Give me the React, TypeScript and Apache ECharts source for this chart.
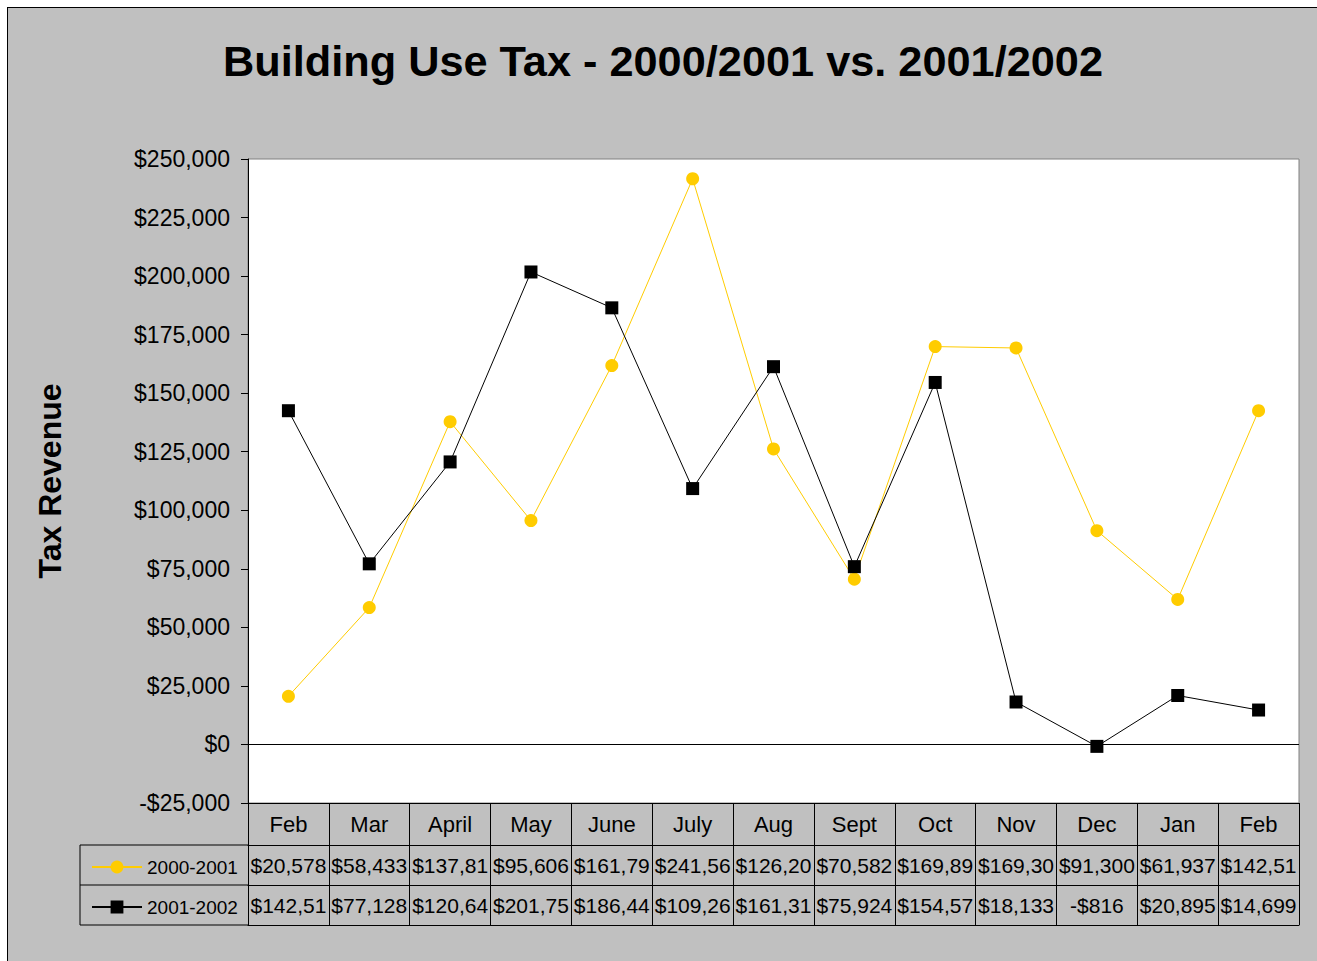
import React, { useEffect, useRef } from "react";
import * as echarts from "echarts";

const months = ["Feb", "Mar", "April", "May", "June", "July", "Aug", "Sept", "Oct", "Nov", "Dec", "Jan", "Feb"];
const seriesNames = ["2000-2001", "2001-2002"];
const values2000 = [20578, 58433, 137815, 95606, 161795, 241565, 126205, 70582, 169895, 169305, 91300, 61937, 142515];
const values2001 = [142515, 77128, 120645, 201755, 186445, 109265, 161315, 75924, 154575, 18133, -816, 20895, 14699];
const yMin = -25000;
const yMax = 250000;
const yStep = 25000;

const money = (v: number) => (v < 0 ? "-$" : "$") + Math.abs(v).toLocaleString("en-US");
const cell = (v: number) => money(v).slice(0, 7);

const SANS = "'Liberation Sans', Arial, sans-serif";

export default function App() {
  const ref = useRef<HTMLDivElement>(null);
  useEffect(() => {
    document.body.style.margin = "0";
    const chart = echarts.init(ref.current!, null, { renderer: "svg" });
    const gridLeft = 248;
    const gridRight = 18;
    const tableAxis = (data: string[], offset: number, margin: number, fontSize = 21, labels = true, ticks = true) => ({
      type: "category",
      data,
      position: "bottom",
      offset,
      boundaryGap: true,
      axisLine: { show: true, onZero: false, lineStyle: { color: "#000", width: 1 } },
      axisTick: { show: ticks, length: 40, interval: 0, lineStyle: { color: "#000", width: 1 } },
      axisLabel: {
        show: labels,
        interval: 0,
        margin,
        color: "#000",
        fontSize,
        fontFamily: SANS,
      },
      splitLine: { show: false },
    });
    chart.setOption({
      animation: false,
      backgroundColor: "transparent",
      title: {
        text: "Building Use Tax - 2000/2001 vs. 2001/2002",
        left: 658,
        textAlign: "center",
        top: 34,
        textStyle: { fontSize: 43.3, fontWeight: "bold", color: "#000", fontFamily: SANS },
      },
      legend: {
        orient: "vertical",
        left: 86,
        top: 851,
        itemGap: 18,
        itemWidth: 50,
        itemHeight: 16,
        textStyle: { fontSize: 19, color: "#000", fontFamily: SANS, lineHeight: 22 },
        data: seriesNames,
      },
      grid: {
        left: gridLeft,
        right: gridRight,
        top: 159,
        bottom: 158,
        show: true,
        backgroundColor: "#fff",
        borderColor: "#808080",
        borderWidth: 1,
      },
      xAxis: [
        {
          ...tableAxis(months, 0, 10, 22),
          axisTick: { show: true, length: 42, interval: 0, lineStyle: { color: "#000", width: 1 } },
        },
        tableAxis(values2000.map(cell), 42, 10),
        tableAxis(values2001.map(cell), 82, 10),
        tableAxis(months, 122, 0, 21, false, false),
      ],
      yAxis: {
        type: "value",
        min: yMin,
        max: yMax,
        interval: yStep,
        name: "Tax Revenue",
        nameLocation: "middle",
        nameRotate: 90,
        nameGap: 182,
        nameTextStyle: { fontSize: 32, fontWeight: "bold", color: "#000", fontFamily: SANS },
        axisLine: { show: true, lineStyle: { color: "#000", width: 1 } },
        axisTick: { show: true, inside: false, length: 7, lineStyle: { color: "#000" } },
        axisLabel: { margin: 18, color: "#000", fontSize: 23, fontFamily: SANS, formatter: (v: number) => money(v) },
        splitLine: { show: false },
      },
      graphic: [
        { type: "line", shape: { x1: 80, y1: 845, x2: gridLeft, y2: 845 }, style: { stroke: "#000", lineWidth: 1 } },
        { type: "line", shape: { x1: 80, y1: 885, x2: gridLeft, y2: 885 }, style: { stroke: "#000", lineWidth: 1 } },
        { type: "line", shape: { x1: 80, y1: 925, x2: gridLeft, y2: 925 }, style: { stroke: "#000", lineWidth: 1 } },
        { type: "line", shape: { x1: 80, y1: 845, x2: 80, y2: 925 }, style: { stroke: "#000", lineWidth: 1 } },
      ],
      series: [
        {
          name: seriesNames[0],
          type: "line",
          data: values2000,
          symbol: "circle",
          symbolSize: 13,
          color: "#FFCC00",
          lineStyle: { color: "#FFCC00", width: 1 },
          itemStyle: { color: "#FFCC00" },
          markLine: {
            silent: true,
            symbol: "none",
            label: { show: false },
            lineStyle: { color: "#000", width: 1, type: "solid" },
            data: [{ yAxis: 0 }],
          },
        },
        {
          name: seriesNames[1],
          type: "line",
          data: values2001,
          symbol: "rect",
          symbolSize: 13,
          color: "#000",
          lineStyle: { color: "#000", width: 1 },
          itemStyle: { color: "#000" },
        },
      ],
    });
    return () => chart.dispose();
  }, []);
  return (
    <div style={{ position: "fixed", left: 0, top: 0, width: 1317, height: 961, background: "#fff" }}>
      <div
        style={{
          position: "absolute",
          left: 7,
          top: 7,
          width: 1310,
          height: 954,
          background: "#c0c0c0",
          borderTop: "1.5px solid #000",
          borderLeft: "1.5px solid #000",
          boxSizing: "border-box",
        }}
      />
      <div ref={ref} style={{ position: "absolute", left: 0, top: 0, width: 1317, height: 961 }} />
    </div>
  );
}
